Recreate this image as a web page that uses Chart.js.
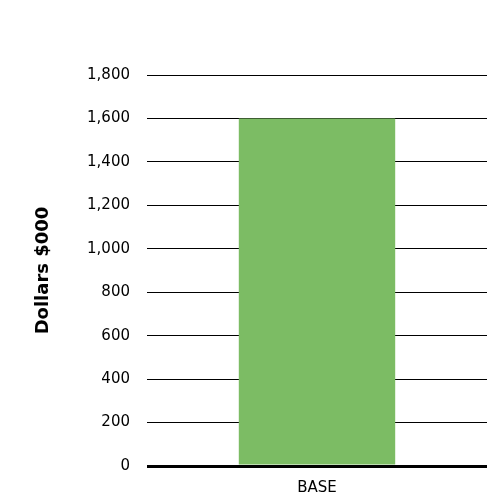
<!DOCTYPE html>
<html lang="en">
<head>
    <meta charset="UTF-8">
    <title>Base</title>
    <script src="https://cdn.jsdelivr.net/npm/chart.js"></script>
    <style>
        body { margin: 0; background: #fff; }
        canvas { display: block; }
    </style>
</head>
<body>
<canvas id="chart" width="487" height="493"></canvas>
<script>
    const categories = ["BASE"];
    const values = [1600];
    const yTicks = [0, 200, 400, 600, 800, 1000, 1200, 1400, 1600, 1800];

    const ctx = document.getElementById('chart').getContext('2d');
    new Chart(ctx, {
        type: 'bar',
        data: {
            labels: categories,
            datasets: [{
                data: values,
                backgroundColor: '#7cbc64',
                borderWidth: 0,
                barPercentage: 0.46,
                categoryPercentage: 1
            }]
        },
        options: {
            responsive: false,
            animation: false,
            layout: { padding: { top: 75, right: 0, left: 0, bottom: 0 } },
            plugins: { legend: { display: false }, tooltip: { enabled: false } },
            scales: {
                x: {
                    grid: { display: false, drawTicks: false },
                    border: { display: false },
                    ticks: { color: '#000', padding: 13, font: { family: 'DejaVu Sans', size: 15 } },
                    afterFit: s => { s.height = 27; }
                },
                y: {
                    min: 0,
                    max: 1800,
                    afterBuildTicks: s => { s.ticks = yTicks.map(v => ({ value: v })); },
                    grid: {
                        drawTicks: false,
                        color: '#000',
                        lineWidth: c => c.tick.value === 0 ? 3 : 1
                    },
                    border: { display: false },
                    ticks: {
                        color: '#000',
                        padding: 17,
                        font: { family: 'DejaVu Sans', size: 15 },
                        callback: v => v.toLocaleString('en-US')
                    },
                    title: {
                        display: true,
                        text: 'Dollars $000',
                        color: '#000',
                        padding: { top: 33, bottom: 0 },
                        font: { family: 'DejaVu Sans', size: 18, weight: 'bold' }
                    },
                    afterFit: s => { s.width = 147; }
                }
            }
        }
    });
</script>
</body>
</html>
